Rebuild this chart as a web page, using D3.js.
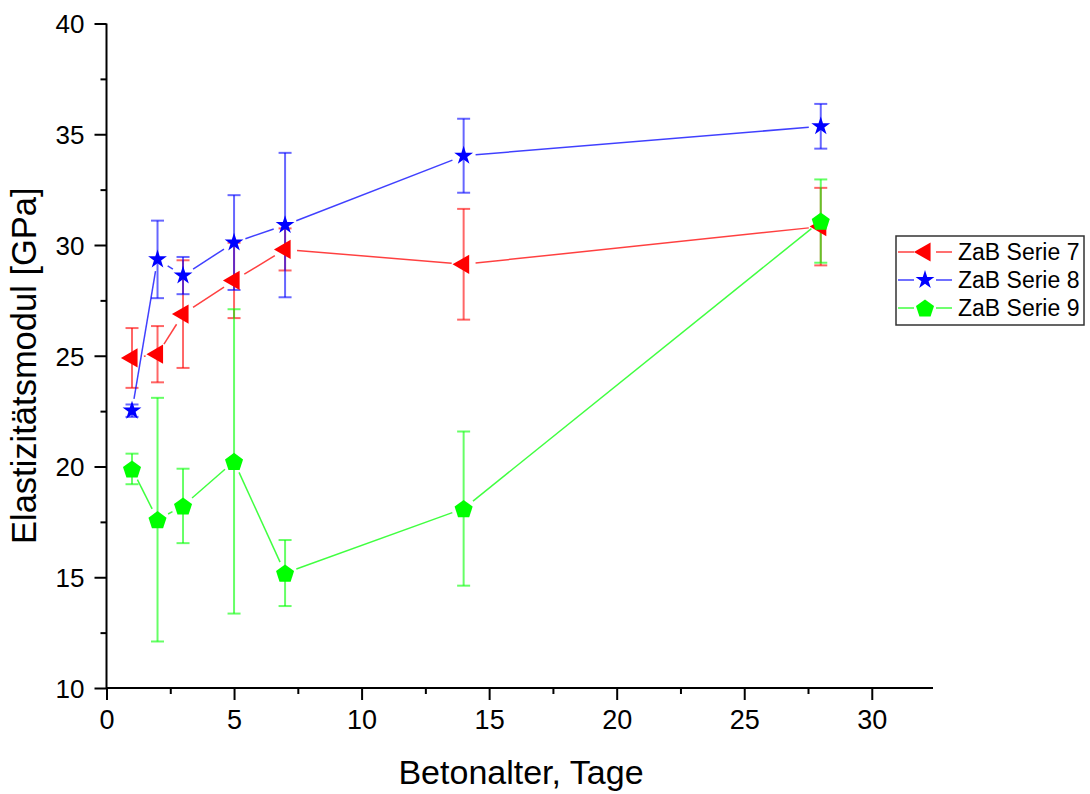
<!DOCTYPE html>
<html>
<head>
<meta charset="utf-8">
<script src="https://cdn.jsdelivr.net/npm/d3@7"></script>
<style>
  html, body { margin: 0; padding: 0; background: #fff; }
  svg { display: block; font-family: Arial, "Liberation Sans", sans-serif; }
</style>
</head>
<body>
<svg id="chart" width="1090" height="794"></svg>
<script>
// ---- data ----
const days = [1, 2, 3, 5, 7, 14, 28];
const serie7 = [24.9, 25.07, 26.88, 28.4, 29.8, 29.13, 30.83];
const serie7Err = [1.35, 1.27, 2.43, 1.7, 0.95, 2.5, 1.75];
const serie8 = [22.52, 29.35, 28.62, 30.11, 30.9, 34.03, 35.36];
const serie8Err = [0.28, 1.75, 0.84, 2.14, 3.26, 1.67, 1.01];
const serie9 = [19.89, 17.6, 18.22, 20.23, 15.19, 18.1, 31.08];
const serie9Err = [0.69, 5.5, 1.68, 6.87, 1.49, 3.48, 1.88];
const seriesNames = ["ZaB Serie 7", "ZaB Serie 8", "ZaB Serie 9"];
const xTicks = [0, 5, 10, 15, 20, 25, 30];
const yTicks = [10, 15, 20, 25, 30, 35, 40];
const xTitle = "Betonalter, Tage";
const yTitle = "Elastizitätsmodul [GPa]";

// ---- styling ----
const colors = ["#ff0000", "#0000ff", "#00ff00"];
const svg = d3.select("#chart");

const x = d3.scaleLinear().domain([0, 32.4]).range([106.5, 933]);
const y = d3.scaleLinear().domain([10, 40]).range([688, 23.5]);

// pentagon symbol (point up)
const symbolPentagon = {
  draw(ctx, size) {
    const R = Math.sqrt(size);
    for (let i = 0; i < 5; i++) {
      const a = -Math.PI / 2 + i * 2 * Math.PI / 5;
      const px = R * Math.cos(a), py = R * Math.sin(a) + R * 0.1;
      if (i === 0) ctx.moveTo(px, py); else ctx.lineTo(px, py);
    }
    ctx.closePath();
  }
};
const symbols = [
  { type: d3.symbolTriangle, size: 160, rotate: -90 },
  { type: d3.symbolStar, size: 110, rotate: 0 },
  { type: symbolPentagon, size: 90, rotate: 0 }
];

const series = [
  { name: seriesNames[0], values: serie7, errs: serie7Err },
  { name: seriesNames[1], values: serie8, errs: serie8Err },
  { name: seriesNames[2], values: serie9, errs: serie9Err }
];

// ---- axes ----
const xAxisMajor = d3.axisBottom(x).tickValues(xTicks).tickSize(12).tickPadding(10).tickFormat(d3.format("d"));
const xAxisMinor = d3.axisBottom(x).tickValues(d3.range(2.5, 32.4, 5)).tickSize(6).tickFormat("");
const yAxisMajor = d3.axisLeft(y).tickValues(yTicks).tickSize(12).tickPadding(10).tickFormat(d3.format("d"));
const yAxisMinor = d3.axisLeft(y).tickValues(d3.range(12.5, 40, 5)).tickSize(6).tickFormat("");

function styleAxis(g, fs) {
  g.select(".domain").attr("stroke", "#000").attr("stroke-width", 2);
  g.selectAll(".tick line").attr("stroke", "#000").attr("stroke-width", 2);
  g.selectAll(".tick text").attr("fill", "#000").attr("font-size", fs)
    .attr("font-family", "Arial, 'Liberation Sans', sans-serif");
}

const gx = svg.append("g").attr("transform", `translate(0,${y(10)})`).call(xAxisMajor);
styleAxis(gx, 27);
const gxm = svg.append("g").attr("transform", `translate(0,${y(10)})`).call(xAxisMinor);
styleAxis(gxm, 27);
gxm.select(".domain").remove();

const gy = svg.append("g").attr("transform", `translate(${x(0)},0)`).call(yAxisMajor);
styleAxis(gy, 26);
gy.selectAll(".tick text").attr("dy", "0.36em");
const gym = svg.append("g").attr("transform", `translate(${x(0)},0)`).call(yAxisMinor);
styleAxis(gym, 26);
gym.select(".domain").remove();
gx.select(".domain").attr("d", `M${x(0)},0H${x(32.4)}`);
gy.select(".domain").attr("d", `M0,${y(10)}V${y(40)}`);

// titles
svg.append("text").attr("x", 521).attr("y", 784).attr("text-anchor", "middle")
  .attr("font-size", 34).attr("fill", "#000").text(xTitle);
svg.append("text").attr("transform", `translate(36,${544}) rotate(-90)`)
  .attr("text-anchor", "start").attr("font-size", 34.5).attr("fill", "#000").text(yTitle);

// ---- error bars ----
const capHalf = 6.5;
series.forEach((s, si) => {
  const g = svg.append("g").attr("stroke", colors[si]).attr("stroke-opacity", 0.6).attr("stroke-width", 2);
  days.forEach((d, i) => {
    const px = x(d), top = y(s.values[i] + s.errs[i]), bot = y(s.values[i] - s.errs[i]);
    g.append("line").attr("x1", px).attr("x2", px).attr("y1", top).attr("y2", bot);
    g.append("line").attr("x1", px - capHalf).attr("x2", px + capHalf).attr("y1", top).attr("y2", top);
    g.append("line").attr("x1", px - capHalf).attr("x2", px + capHalf).attr("y1", bot).attr("y2", bot);
  });
});

// ---- connecting lines with gaps around markers ----
const gap = 12;
series.forEach((s, si) => {
  const g = svg.append("g").attr("stroke", colors[si]).attr("stroke-opacity", 0.75).attr("stroke-width", 1.5);
  for (let i = 0; i < days.length - 1; i++) {
    const x1 = x(days[i]), y1 = y(s.values[i]), x2 = x(days[i + 1]), y2 = y(s.values[i + 1]);
    const len = Math.hypot(x2 - x1, y2 - y1);
    if (len <= 2 * gap) continue;
    const ux = (x2 - x1) / len, uy = (y2 - y1) / len;
    g.append("line").attr("x1", x1 + ux * gap).attr("y1", y1 + uy * gap)
      .attr("x2", x2 - ux * gap).attr("y2", y2 - uy * gap);
  }
});

// ---- markers ----
series.forEach((s, si) => {
  const sym = symbols[si];
  const path = d3.symbol().type(sym.type).size(sym.size)();
  svg.append("g").selectAll("path").data(days).join("path")
    .attr("d", path)
    .attr("transform", (d, i) => `translate(${x(d)},${y(s.values[i])}) rotate(${sym.rotate})`)
    .attr("fill", colors[si]);
});

// ---- legend ----
const lg = svg.append("g");
lg.append("rect").attr("x", 896).attr("y", 236).attr("width", 188).attr("height", 89)
  .attr("fill", "#fff").attr("stroke", "#333").attr("stroke-width", 1.5);
const legendY = [252, 280, 308];
series.forEach((s, si) => {
  const ly = legendY[si];
  const sym = symbols[si];
  lg.append("line").attr("x1", 898).attr("x2", 914).attr("y1", ly).attr("y2", ly)
    .attr("stroke", colors[si]).attr("stroke-opacity", 0.75).attr("stroke-width", 1.5);
  lg.append("line").attr("x1", 936).attr("x2", 952).attr("y1", ly).attr("y2", ly)
    .attr("stroke", colors[si]).attr("stroke-opacity", 0.75).attr("stroke-width", 1.5);
  lg.append("path").attr("d", d3.symbol().type(sym.type).size(sym.size)())
    .attr("transform", `translate(925,${ly}) rotate(${sym.rotate})`).attr("fill", colors[si]);
  lg.append("text").attr("x", 958).attr("y", ly).attr("dy", "0.36em")
    .attr("font-size", 23).attr("fill", "#000").text(s.name);
});
</script>
</body>
</html>
